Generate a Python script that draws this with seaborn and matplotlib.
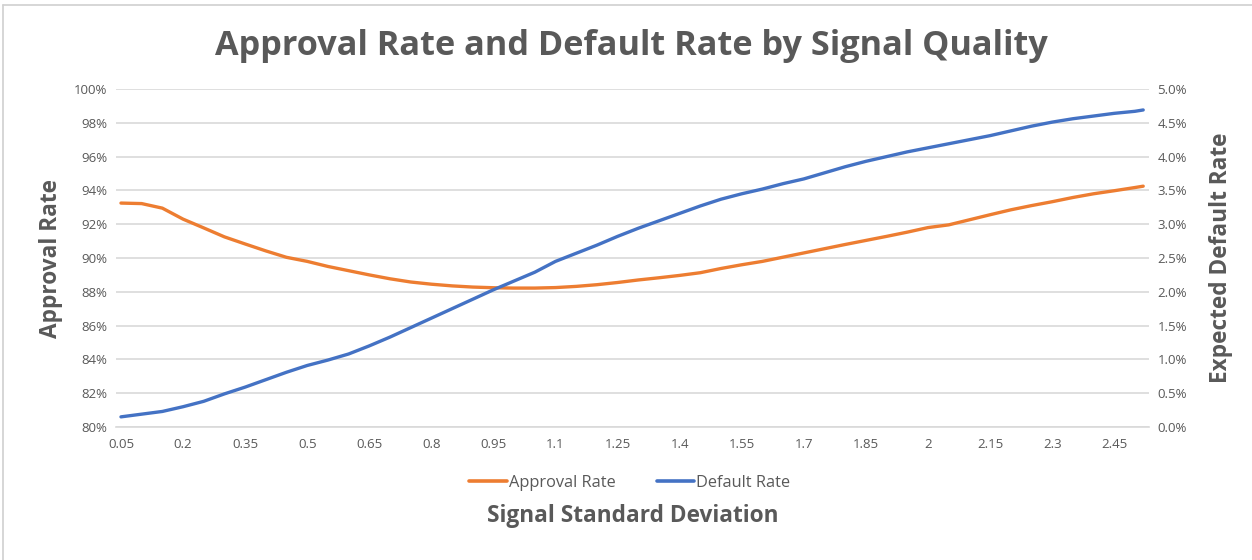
import numpy as np
import pandas as pd
import matplotlib
matplotlib.use("Agg")
import matplotlib.pyplot as plt
from matplotlib.lines import Line2D
from matplotlib.ticker import FuncFormatter, MultipleLocator
import seaborn as sns

# Signal standard deviation (x) and the two rates read per point
signal_sd = [0.05, 0.10, 0.15, 0.20, 0.25, 0.30, 0.35, 0.40, 0.45, 0.50,
             0.55, 0.60, 0.65, 0.70, 0.75, 0.80, 0.85, 0.90, 0.95, 1.00,
             1.05, 1.10, 1.15, 1.20, 1.25, 1.30, 1.35, 1.40, 1.45, 1.50,
             1.55, 1.60, 1.65, 1.70, 1.75, 1.80, 1.85, 1.90, 1.95, 2.00,
             2.05, 2.10, 2.15, 2.20, 2.25, 2.30, 2.35, 2.40, 2.45, 2.50, 2.52]

approval_rate = [93.25, 93.22, 92.95, 92.30, 91.78, 91.25, 90.83, 90.42, 90.04, 89.80,
                 89.50, 89.25, 89.00, 88.77, 88.58, 88.45, 88.35, 88.28, 88.24, 88.22,
                 88.22, 88.25, 88.32, 88.42, 88.55, 88.70, 88.83, 88.97, 89.13, 89.38,
                 89.60, 89.80, 90.05, 90.30, 90.55, 90.80, 91.04, 91.28, 91.53, 91.80,
                 91.96, 92.26, 92.56, 92.85, 93.10, 93.33, 93.58, 93.80, 93.98, 94.17, 94.25]

default_rate = [0.15, 0.19, 0.23, 0.30, 0.38, 0.49, 0.59, 0.70, 0.81, 0.91,
                0.99, 1.08, 1.20, 1.33, 1.47, 1.61, 1.75, 1.89, 2.03, 2.16,
                2.29, 2.45, 2.57, 2.69, 2.82, 2.94, 3.05, 3.16, 3.27, 3.37,
                3.45, 3.52, 3.60, 3.67, 3.76, 3.85, 3.93, 4.00, 4.07, 4.13,
                4.19, 4.25, 4.31, 4.38, 4.45, 4.51, 4.56, 4.60, 4.64, 4.67, 4.69]

x_tick_values = [0.05, 0.2, 0.35, 0.5, 0.65, 0.8, 0.95, 1.1, 1.25, 1.4,
                 1.55, 1.7, 1.85, 2, 2.15, 2.3, 2.45]
x_tick_labels = ["0.05", "0.2", "0.35", "0.5", "0.65", "0.8", "0.95", "1.1", "1.25", "1.4",
                 "1.55", "1.7", "1.85", "2", "2.15", "2.3", "2.45"]

df = pd.DataFrame({"sd": signal_sd, "approval": approval_rate, "default": default_rate})

ORANGE = "#ED7D31"
BLUE = "#4472C4"
GRID = "#D9D9D9"
TEXT = "#595959"
FONT = ["Open Sans", "DejaVu Sans"]

sns.set_theme(style="white")
plt.rcParams["font.family"] = FONT

fig = plt.figure(figsize=(12.52, 5.6), dpi=100)
ax = fig.add_axes([116 / 1252, 133 / 560, 1033 / 1252, 338 / 560])
ax2 = ax.twinx()

sns.lineplot(data=df, x="sd", y="approval", ax=ax, color=ORANGE, linewidth=2.4,
             label="Approval Rate", legend=False)
sns.lineplot(data=df, x="sd", y="default", ax=ax2, color=BLUE, linewidth=2.4,
             label="Default Rate", legend=False)

ax.set_xlim(0.038, 2.534)
ax.set_ylim(80, 100)
ax2.set_ylim(0, 5)
ax.yaxis.set_major_locator(MultipleLocator(2))
ax2.yaxis.set_major_locator(MultipleLocator(0.5))
ax.yaxis.set_major_formatter(FuncFormatter(lambda v, p: f"{v:.0f}%"))
ax2.yaxis.set_major_formatter(FuncFormatter(lambda v, p: f"{v:.1f}%"))
ax.set_xticks(x_tick_values)
ax.set_xticklabels(x_tick_labels)

ax.grid(axis="y", color=GRID, linewidth=1.2)
ax.grid(axis="x", visible=False)
ax2.grid(False)
ax.set_axisbelow(True)
for a in (ax, ax2):
    for s in a.spines.values():
        s.set_visible(False)
    a.tick_params(length=0, labelsize=9.5, labelcolor=TEXT)
ax.spines["bottom"].set_visible(True)
ax.spines["bottom"].set_color(GRID)
ax.spines["bottom"].set_linewidth(1.2)
ax.tick_params(axis="x", pad=8)
ax.tick_params(axis="y", pad=6)
ax2.tick_params(axis="y", pad=6)

ax.set_xlabel("")
ax.set_ylabel("Approval Rate", fontsize=16.3, fontweight="bold", color=TEXT, labelpad=8)
ax2.set_ylabel("Expected Default Rate", fontsize=16.3, fontweight="bold", color=TEXT,
               labelpad=16)

fig.text(0.504, 0.918, "Approval Rate and Default Rate by Signal Quality",
         ha="center", va="center", fontsize=24.7, fontweight="bold", color=TEXT)
fig.text(0.505, 0.079, "Signal Standard Deviation", ha="center", va="center",
         fontsize=16.3, fontweight="bold", color=TEXT)

handles = [Line2D([], [], color=ORANGE, linewidth=2.6),
           Line2D([], [], color=BLUE, linewidth=2.6)]
fig.legend(handles, ["Approval Rate", "Default Rate"], loc="center",
           bbox_to_anchor=(0.503, 0.138), ncol=2, frameon=False, fontsize=11.8,
           handlelength=2.3, handletextpad=0.1, columnspacing=2.5, labelcolor=TEXT)

# thin chart-area frame along the top and left edges
fig.add_artist(Line2D([3 / 1252, 1], [1 - 4.5 / 560, 1 - 4.5 / 560],
                      transform=fig.transFigure, color="#D0D0D0", linewidth=1.2))
fig.add_artist(Line2D([3 / 1252, 3 / 1252], [0, 1 - 4.5 / 560],
                      transform=fig.transFigure, color="#D0D0D0", linewidth=1.2))

fig.savefig("out.png", dpi=100, facecolor="white")
